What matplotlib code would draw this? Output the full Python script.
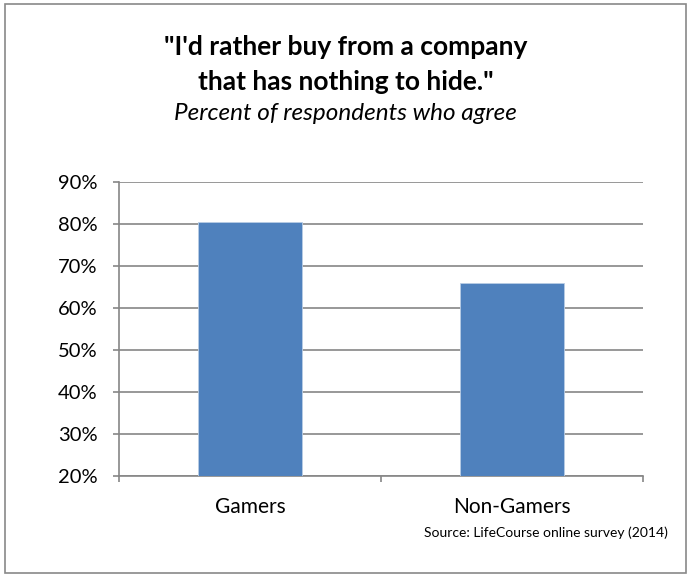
import matplotlib
matplotlib.use("Agg")
import matplotlib.pyplot as plt
from matplotlib.patches import Rectangle
from matplotlib.ticker import FuncFormatter

# survey result: share agreeing with the statement
categories = ["Gamers", "Non-Gamers"]
agree_pct = [80.5, 65.9]
y_ticks = [20, 30, 40, 50, 60, 70, 80, 90]

title_lines = ["\"I'd rather buy from a company", "that has nothing to hide.\""]
subtitle = "Percent of respondents who agree"
source = "Source: LifeCourse online survey (2014)"

plt.rcParams["font.family"] = ["Lato", "DejaVu Sans"]

W, H = 691, 577
fig = plt.figure(figsize=(W / 100, H / 100), dpi=100)
fig.patch.set_facecolor("white")

# chart outline
fig.add_artist(Rectangle((5 / W, 4 / H), 681 / W, 569 / H, transform=fig.transFigure,
                         fill=False, edgecolor="#898989", linewidth=1.2))

ax = fig.add_axes([119 / W, 1 - 476 / H, (643 - 119) / W, (476 - 182) / H])
x = range(len(categories))
ax.bar(x, agree_pct, width=0.4, bottom=0, color="#4F81BD",
       edgecolor="#B9CDE5", linewidth=0.6, zorder=3)

ax.set_xlim(-0.5, 1.5)
ax.set_ylim(20, 90)
ax.set_yticks(y_ticks)
ax.yaxis.set_major_formatter(FuncFormatter(lambda v, _: f"{v:.0f}%"))
ax.set_xticks([-0.5, 0.5, 1.5])
ax.set_xticklabels([])
ax.tick_params(axis="x", direction="out", length=4, color="#868686", width=1.2)
ax.tick_params(axis="y", direction="out", length=4.3, color="#868686", width=1.2,
               labelsize=14.5, pad=11, labelcolor="black")
ax.grid(axis="y", color="#868686", linewidth=1.2, zorder=0)
for side in ["top", "right"]:
    ax.spines[side].set_visible(False)
for side in ["left", "bottom"]:
    ax.spines[side].set_color("#868686")
    ax.spines[side].set_linewidth(1.2)

for i, name in enumerate(categories):
    ax.text(i, -0.105, name, transform=ax.get_xaxis_transform(),
            ha="center", va="center", fontsize=15)

for y_px, line in zip([47, 82], title_lines):
    fig.text(0.5, 1 - y_px / H, line, ha="center", va="center", fontsize=19,
             fontweight="bold")
fig.text(0.5, 1 - 114 / H, subtitle, ha="center", va="center", fontsize=17.5,
         style="italic")
fig.text(668 / W, 1 - 533 / H, source, ha="right", va="center", fontsize=10)

fig.savefig("out.png", dpi=100)
